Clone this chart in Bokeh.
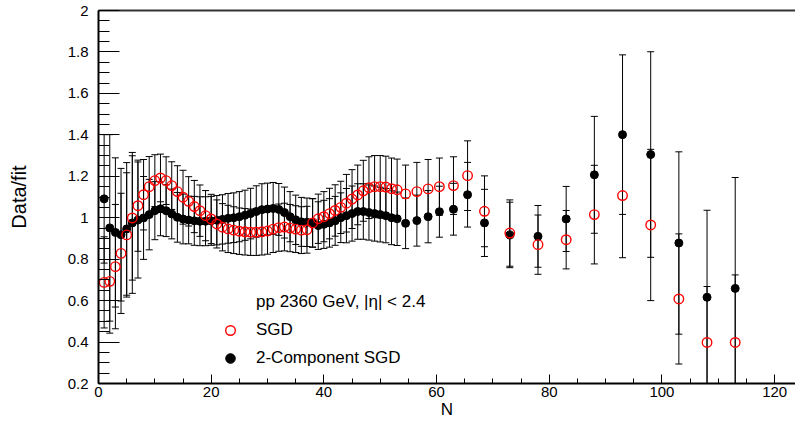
from bokeh.plotting import figure
from bokeh.models import (ColumnDataSource, Whisker, TeeHead, Range1d, LinearAxis,
                          FixedTicker, Legend, LegendItem, CustomJSTickFormatter)
from bokeh.embed import file_html
from bokeh.resources import INLINE

# ---------------- data ----------------
n_vals = list(range(1, 54)) + [54.5, 56.5, 58.5, 60.5, 63, 65.5, 68.5, 73, 78, 83, 88, 93, 98, 103, 108, 113]

sgd = [0.688, 0.693, 0.764, 0.828, 0.917, 0.999, 1.058, 1.111, 1.150, 1.179,
       1.192, 1.179, 1.155, 1.126, 1.099, 1.079, 1.054, 1.034, 1.010, 0.994,
       0.970, 0.954, 0.946, 0.940, 0.935, 0.932, 0.930, 0.930, 0.932, 0.936,
       0.945, 0.952, 0.955, 0.950, 0.945, 0.940, 0.942, 0.975, 0.995, 1.005,
       1.020, 1.035, 1.050, 1.070, 1.090, 1.110, 1.130, 1.145, 1.150, 1.150,
       1.148, 1.140, 1.135,
       1.115, 1.126, 1.139, 1.150, 1.155, 1.203, 1.031, 0.926, 0.870, 0.894,
       1.015, 1.107, 0.965, 0.608, 0.398, 0.398]

sgd_err = [0.220, 0.250, 0.300, 0.290, 0.300, 0.300, 0.220, 0.170, 0.145, 0.125,
           0.115, 0.115, 0.115, 0.125, 0.130, 0.119, 0.126, 0.124, 0.121, 0.119,
           0.116, 0.114, 0.114, 0.113, 0.112, 0.112, 0.112, 0.112, 0.112, 0.112,
           0.113, 0.114, 0.115, 0.114, 0.113, 0.113, 0.113, 0.117, 0.119, 0.121,
           0.122, 0.124, 0.126, 0.139, 0.142, 0.144, 0.147, 0.149, 0.150, 0.150,
           0.149, 0.148, 0.148,
           0.139, 0.141, 0.142, 0.138, 0.139, 0.168, 0.171, 0.160, 0.143, 0.141,
           0.238, 0.300, 0.365, 0.314, 0.270, 0.326]

two_comp = [1.091, 0.951, 0.929, 0.918, 0.946, 0.975, 0.989, 0.999, 1.015, 1.034,
            1.043, 1.034, 1.018, 1.002, 0.994, 0.989, 0.985, 0.983, 0.983, 0.985,
            0.988, 0.992, 0.997, 1.000, 1.005, 1.012, 1.020, 1.030, 1.039, 1.042,
            1.045, 1.040, 1.025, 1.005, 0.990, 0.980, 0.978, 0.975, 0.962, 0.968,
            0.975, 0.985, 1.000, 1.010, 1.020, 1.030, 1.030, 1.025, 1.020, 1.015,
            1.010, 1.000, 0.995,
            0.973, 0.986, 1.005, 1.029, 1.041, 1.111, 0.975, 0.917, 0.910, 0.994,
            1.207, 1.401, 1.305, 0.878, 0.616, 0.659]

two_comp_err = [0.310, 0.450, 0.360, 0.320, 0.320, 0.340, 0.280, 0.200, 0.170, 0.140,
                0.130, 0.125, 0.120, 0.120, 0.120, 0.115, 0.118, 0.118, 0.118, 0.118,
                0.119, 0.119, 0.120, 0.120, 0.121, 0.121, 0.122, 0.124, 0.125, 0.125,
                0.125, 0.125, 0.123, 0.121, 0.119, 0.118, 0.117, 0.117, 0.115, 0.116,
                0.117, 0.118, 0.120, 0.131, 0.133, 0.134, 0.134, 0.133, 0.133, 0.132,
                0.131, 0.130, 0.129,
                0.122, 0.123, 0.126, 0.123, 0.125, 0.156, 0.162, 0.158, 0.149, 0.157,
                0.282, 0.385, 0.496, 0.440, 0.420, 0.535]

y_ticks = [0.2, 0.4, 0.6, 0.8, 1.0, 1.2, 1.4, 1.6, 1.8, 2.0]
y_minor = [0.2 + 0.05 * i for i in range(37)]
x_ticks = [0, 20, 40, 60, 80, 100, 120]
x_minor = list(range(0, 125, 5))

header = "pp 2360 GeV, |\u03b7| < 2.4"
label_sgd = "SGD"
label_two = "2-Component SGD"

FONT = "Liberation Sans"

src_sgd = ColumnDataSource(dict(
    x=n_vals, y=sgd,
    upper=[v + e for v, e in zip(sgd, sgd_err)],
    lower=[v - e for v, e in zip(sgd, sgd_err)]))
src_two = ColumnDataSource(dict(
    x=n_vals, y=two_comp,
    upper=[v + e for v, e in zip(two_comp, two_comp_err)],
    lower=[v - e for v, e in zip(two_comp, two_comp_err)]))

p = figure(frame_width=697, frame_height=373,
           x_range=Range1d(0, 123.7), y_range=Range1d(0.2, 2.0),
           output_backend="svg", toolbar_location=None,
           min_border_left=98, min_border_right=0, min_border_top=10, min_border_bottom=36)
p.grid.visible = False
p.outline_line_color = None
p.background_fill_color = "white"
p.border_fill_color = "white"

for src in (src_sgd, src_two):
    w = Whisker(base="x", upper="upper", lower="lower", source=src,
                line_color="black", line_width=1,
                upper_head=TeeHead(size=7, line_color="black", line_width=1),
                lower_head=TeeHead(size=7, line_color="black", line_width=1))
    p.add_layout(w)

r_two = p.scatter("x", "y", source=src_two, marker="circle", size=8,
                  fill_color="black", line_color="black")
r_sgd = p.scatter("x", "y", source=src_sgd, marker="circle", size=9.5,
                  fill_color=None, line_color="red", line_width=1.4)
r_blank = p.scatter(x=[], y=[], alpha=0)

# axes
xa = p.xaxis[0]
xa.ticker = FixedTicker(ticks=x_ticks, minor_ticks=x_minor)
xa.axis_label = "N"
ya = p.yaxis[0]
ya.ticker = FixedTicker(ticks=y_ticks, minor_ticks=y_minor)
ya.formatter = CustomJSTickFormatter(code="return tick.toFixed(1).replace(/\\.0$/, '');")
ya.axis_label = "Data/fit"

for ax in (xa, ya):
    ax.axis_line_width = 2
    ax.axis_line_color = "black"
    ax.major_tick_out = 0
    ax.minor_tick_out = 0
    ax.major_tick_line_color = "black"
    ax.minor_tick_line_color = "black"
    ax.major_label_text_font = FONT
    ax.major_label_text_font_size = "15px"
    ax.major_label_text_color = "black"
    ax.axis_label_text_font = FONT
    ax.axis_label_text_font_style = "normal"
    ax.axis_label_text_color = "black"

xa.major_tick_in = 9
xa.minor_tick_in = 5
xa.major_label_standoff = 3
xa.axis_label_standoff = 0
xa.axis_label_text_font_size = "17px"

ya.major_tick_in = 21
ya.minor_tick_in = 11
ya.major_label_standoff = 10
ya.axis_label_standoff = 35
ya.axis_label_text_font_size = "20px"

top = LinearAxis(ticker=FixedTicker(ticks=[], minor_ticks=[]),
                 major_tick_line_color=None, minor_tick_line_color=None,
                 major_label_standoff=0,
                 axis_line_width=2, axis_line_color="#333333")
p.add_layout(top, "above")

legend = Legend(items=[LegendItem(label=header, renderers=[r_blank]),
                       LegendItem(label=label_sgd, renderers=[r_sgd]),
                       LegendItem(label=label_two, renderers=[r_two])],
                location=(120, 13), orientation="vertical",
                glyph_width=24, glyph_height=24, label_height=24,
                spacing=4, padding=0, margin=0, label_standoff=14,
                label_text_font=FONT, label_text_font_size="17px",
                label_text_color="black",
                background_fill_alpha=0, border_line_color=None)
p.add_layout(legend)

open("out.html", "w").write(file_html(p, INLINE))
